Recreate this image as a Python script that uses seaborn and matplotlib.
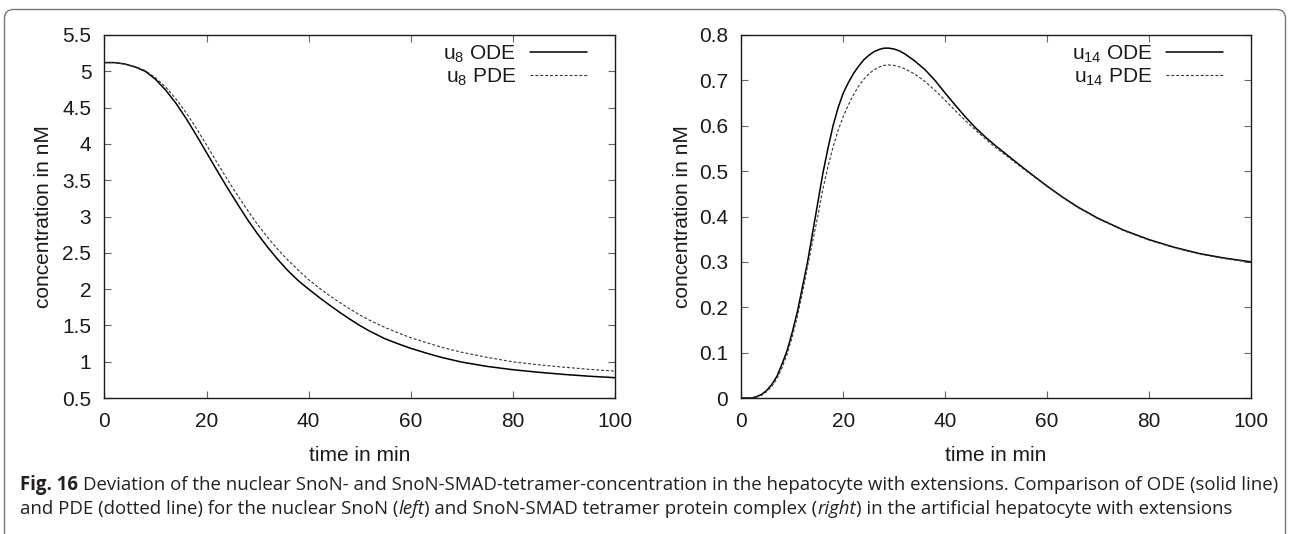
import matplotlib
matplotlib.use("Agg")
import matplotlib.pyplot as plt
import seaborn as sns
from matplotlib.patches import FancyBboxPatch
from matplotlib.transforms import IdentityTransform
from matplotlib.ticker import MultipleLocator, FormatStrFormatter

# values
t_u8 = [0, 2, 4, 6, 8, 10, 12, 14, 16, 18, 20, 22, 24, 26, 28, 30, 32, 34, 36, 38, 40,
        42, 44, 46, 48, 50, 52, 55, 58, 60, 63, 66, 70, 75, 80, 85, 90, 95, 100]
u8_ode = [5.12, 5.12, 5.10, 5.06, 5.00, 4.89, 4.74, 4.56, 4.35, 4.12, 3.88, 3.64, 3.405,
          3.18, 2.96, 2.76, 2.575, 2.405, 2.25, 2.115, 2.00, 1.89, 1.785, 1.685, 1.59,
          1.50, 1.42, 1.315, 1.235, 1.185, 1.12, 1.06, 0.995, 0.935, 0.89, 0.855, 0.825,
          0.80, 0.78]
u8_pde = [5.12, 5.12, 5.10, 5.065, 5.01, 4.91, 4.78, 4.62, 4.43, 4.215, 3.985, 3.75, 3.52,
          3.30, 3.09, 2.89, 2.71, 2.545, 2.395, 2.26, 2.13, 2.02, 1.915, 1.82, 1.73,
          1.645, 1.57, 1.47, 1.385, 1.33, 1.265, 1.20, 1.13, 1.06, 0.998, 0.958, 0.925,
          0.895, 0.87]

t_u14 = [0, 2, 3, 4, 5, 6, 7, 8, 9, 10, 11, 12, 13, 14, 15, 16, 17, 18, 19, 20, 21, 22,
         23, 24, 25, 26, 27, 28, 29, 30, 31, 32, 34, 36, 38, 40, 42, 44, 46, 48, 50, 52,
         55, 58, 60, 63, 66, 70, 75, 80, 85, 90, 95, 100]
u14_ode = [0.0, 0.0, 0.003, 0.008, 0.017, 0.030, 0.048, 0.075, 0.105, 0.145, 0.19, 0.245,
           0.30, 0.365, 0.43, 0.495, 0.55, 0.60, 0.64, 0.672, 0.695, 0.715, 0.731, 0.745,
           0.755, 0.763, 0.768, 0.771, 0.771, 0.769, 0.765, 0.759, 0.743, 0.724, 0.700,
           0.672, 0.645, 0.619, 0.595, 0.574, 0.555, 0.537, 0.510, 0.484, 0.467, 0.443,
           0.421, 0.396, 0.370, 0.349, 0.332, 0.318, 0.308, 0.300]
u14_pde = [0.0, 0.0, 0.002, 0.006, 0.014, 0.026, 0.043, 0.067, 0.097, 0.135, 0.18, 0.232,
           0.29, 0.345, 0.40, 0.46, 0.51, 0.553, 0.59, 0.62, 0.646, 0.668, 0.687, 0.702,
           0.714, 0.723, 0.729, 0.733, 0.734, 0.733, 0.730, 0.726, 0.714, 0.698, 0.678,
           0.656, 0.633, 0.611, 0.590, 0.570, 0.551, 0.534, 0.508, 0.483, 0.466, 0.442,
           0.420, 0.395, 0.369, 0.348, 0.331, 0.317, 0.307, 0.299]

x_ticks = [0, 20, 40, 60, 80, 100]

W, H = 1291, 534

sns.set_style("ticks")
plt.rcParams["font.family"] = ["Liberation Sans", "DejaVu Sans"]
plt.rcParams["mathtext.fontset"] = "custom"
plt.rcParams["mathtext.rm"] = "Liberation Sans"
plt.rcParams["mathtext.it"] = "Liberation Sans:italic"

fig = plt.figure(figsize=(W / 100, H / 100), dpi=100)
fig.patch.set_facecolor("white")

ax1 = fig.add_axes([104.5 / W, (H - 398) / H, 510.2 / W, 363 / H])
ax2 = fig.add_axes([741.3 / W, (H - 398) / H, 509.7 / W, 363 / H])

dash = (0, (2.6, 1.8))
sns.lineplot(x=t_u8, y=u8_ode, ax=ax1, color="black", lw=1.1, label="u$_8$ ODE")
sns.lineplot(x=t_u8, y=u8_pde, ax=ax1, color="#333333", lw=0.8, linestyle=dash,
             label="u$_8$ PDE")
sns.lineplot(x=t_u14, y=u14_ode, ax=ax2, color="black", lw=1.1, label="u$_{14}$ ODE")
sns.lineplot(x=t_u14, y=u14_pde, ax=ax2, color="#333333", lw=0.8, linestyle=dash,
             label="u$_{14}$ PDE")

fs = 15.0
for ax, ylim, ystep, lab_x in [(ax1, (0.5, 5.5), 0.5, -0.108), (ax2, (0, 0.8), 0.1, -0.105)]:
    ax.set_xlim(0, 100)
    ax.set_ylim(*ylim)
    ax.set_xticks(x_ticks)
    ax.yaxis.set_major_locator(MultipleLocator(ystep))
    ax.yaxis.set_major_formatter(FormatStrFormatter("%g"))
    ax.tick_params(direction="in", length=5, width=0.8, color="#666666",
                   top=True, right=True, labelsize=fs, labelcolor="#1a1a1a")
    ax.tick_params(axis="x", pad=10.0)
    ax.tick_params(axis="y", pad=9.5)
    for sp in ax.spines.values():
        sp.set_visible(True)
        sp.set_color("#1a1a1a")
        sp.set_linewidth(1.0)
    ax.set_xlabel("time in min", fontsize=fs, color="#1a1a1a", va="baseline")
    ax.set_ylabel("concentration in nM", fontsize=fs, color="#1a1a1a", va="baseline")
    ax.xaxis.set_label_coords(0.5, -0.1736)
    ax.yaxis.set_label_coords(lab_x, 0.5)
    ax.legend(loc="upper right", bbox_to_anchor=(0.9457, 0.977), frameon=False,
              markerfirst=False, handlelength=2.75, handletextpad=0.66,
              labelspacing=0.10, borderpad=0, borderaxespad=0, fontsize=fs,
              labelcolor="#1a1a1a")

# rounded frame around the figure
frame = FancyBboxPatch((4.5, -30), 1281, H - 9.5 + 30,
                       boxstyle="round,pad=0,rounding_size=9",
                       transform=IdentityTransform(), fill=False,
                       edgecolor="#777777", lw=1.0)
fig.add_artist(frame)

# caption, placed run by run
fig.canvas.draw()
renderer = fig.canvas.get_renderer()
cap_font = ["Open Sans", "DejaVu Sans"]
cap_color = "#231f20"


def width_of(s, size, **kw):
    t = fig.text(0, 0, s, fontsize=size, family=cap_font, **kw)
    w = t.get_window_extent(renderer).width
    t.remove()
    return w


line1 = [("Fig. 16", {"weight": "bold"}),
         (" ", {}),
         ("Deviation of the nuclear SnoN- and SnoN-SMAD-tetramer-concentration in the "
          "hepatocyte with extensions. Comparison of ODE (solid line)", {})]
line2 = [("and PDE (dotted line) for the nuclear SnoN (", {}),
         ("left", {"style": "italic"}),
         (") and SnoN-SMAD tetramer protein complex (", {}),
         ("right", {"style": "italic"}),
         (") in the artificial hepatocyte with extensions", {})]


def run_width(runs, size):
    total = 0
    for s, kw in runs:
        if s == " ":
            total += width_of("x x", size) - width_of("xx", size)
        else:
            total += width_of(s, size, **kw)
    return total


size = 12.0
size = min(14.0, size * (1271 - 20) / run_width(line1, size))


def place(runs, x, y_px):
    for s, kw in runs:
        if s == " ":
            x += width_of("x x", size) - width_of("xx", size)
            continue
        fig.text(x / W, (H - y_px) / H, s, fontsize=size, family=cap_font,
                 color=cap_color, va="baseline", ha="left", **kw)
        x += width_of(s, size, **kw)


place(line1, 20, 490)
place(line2, 20, 514)

fig.savefig("out.png", dpi=100)
